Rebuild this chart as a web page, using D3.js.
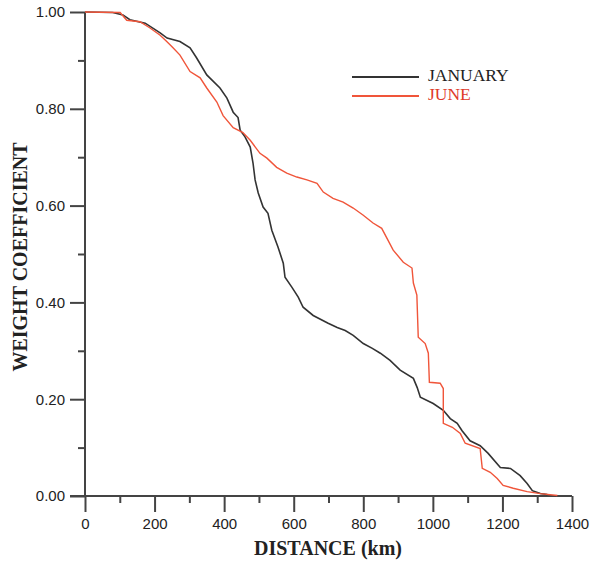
<!DOCTYPE html>
<html lang="en">
<head>
    <meta charset="UTF-8">
    <title>Weight coefficient vs distance</title>
    <script src="https://cdnjs.cloudflare.com/ajax/libs/d3/7.8.5/d3.min.js"></script>
    <style>
        body { margin: 0; background: #fff; }
    </style>
</head>
<body>
<svg id="chart" width="594" height="562"></svg>

<script>
    // 数据：距离(km) 与 权重系数
    var janDist = [0, 80, 109, 129, 173, 216, 236, 273, 302, 321, 350, 388, 408, 426, 440, 446, 460, 475, 483, 489, 498, 512, 526, 537, 555, 570, 575, 595, 613, 627, 656, 699, 725, 748, 771, 800, 826, 849, 877, 906, 944, 955, 964, 1001, 1030, 1050, 1070, 1084, 1107, 1136, 1159, 1194, 1223, 1251, 1271, 1286, 1309, 1329];
    var janWeight = [1.0, 0.999, 0.994, 0.984, 0.977, 0.957, 0.946, 0.939, 0.926, 0.905, 0.870, 0.843, 0.822, 0.793, 0.782, 0.756, 0.742, 0.721, 0.688, 0.653, 0.626, 0.597, 0.584, 0.549, 0.514, 0.481, 0.452, 0.431, 0.411, 0.390, 0.373, 0.357, 0.348, 0.342, 0.332, 0.315, 0.305, 0.295, 0.280, 0.260, 0.243, 0.224, 0.204, 0.191, 0.177, 0.160, 0.150, 0.135, 0.114, 0.104, 0.088, 0.059, 0.057, 0.042, 0.026, 0.011, 0.005, 0.003];

    var junDist = [0, 101, 120, 158, 187, 216, 235, 253, 273, 302, 331, 350, 379, 397, 426, 454, 475, 503, 523, 551, 580, 609, 638, 667, 685, 713, 742, 771, 800, 828, 853, 886, 915, 940, 944, 954, 958, 978, 987, 990, 1021, 1030, 1030, 1056, 1079, 1093, 1136, 1142, 1165, 1185, 1202, 1231, 1271, 1309, 1358];
    var junWeight = [1.0, 0.999, 0.983, 0.980, 0.967, 0.952, 0.939, 0.926, 0.911, 0.877, 0.864, 0.843, 0.814, 0.786, 0.761, 0.751, 0.735, 0.708, 0.698, 0.679, 0.667, 0.659, 0.653, 0.646, 0.628, 0.615, 0.607, 0.595, 0.580, 0.564, 0.553, 0.508, 0.483, 0.471, 0.440, 0.415, 0.328, 0.315, 0.295, 0.235, 0.233, 0.222, 0.150, 0.142, 0.129, 0.109, 0.098, 0.057, 0.049, 0.036, 0.022, 0.016, 0.009, 0.005, 0.001];

    var xTicks = [0, 200, 400, 600, 800, 1000, 1200, 1400];
    var yTicks = [0, 0.2, 0.4, 0.6, 0.8, 1.0];
    var seriesNames = ["JANUARY", "JUNE"];
    var seriesColors = ["#333333", "#f0553a"];

    // 画布
    var width = 594;
    var height = 562;
    var margin = {top: 12, right: 22, bottom: 66, left: 85};

    var svg = d3.select("#chart");

    var x = d3.scaleLinear().domain([0, 1400]).range([margin.left, width - margin.right]);
    var y = d3.scaleLinear().domain([0, 1]).range([height - margin.bottom, margin.top]);

    var axisColor = "#444";

    // x轴
    var xAxis = svg.append("g")
        .attr("transform", "translate(0," + y(0) + ")")
        .call(d3.axisBottom(x).tickValues(xTicks).tickSize(16).tickPadding(6).tickFormat(d3.format("d")));
    var xMinor = svg.append("g")
        .attr("transform", "translate(0," + y(0) + ")")
        .call(d3.axisBottom(x).tickValues(d3.range(100, 1400, 200)).tickSize(7).tickFormat(""));

    // y轴
    var yAxis = svg.append("g")
        .attr("transform", "translate(" + x(0) + ",0)")
        .call(d3.axisLeft(y).tickValues(yTicks).tickSize(15).tickPadding(5).tickFormat(d3.format(".2f")));
    var yMinor = svg.append("g")
        .attr("transform", "translate(" + x(0) + ",0)")
        .call(d3.axisLeft(y).tickValues([0.1, 0.3, 0.5, 0.7, 0.9]).tickSize(7).tickFormat(""));

    [xAxis, xMinor, yAxis, yMinor].forEach(function (g) {
        g.select(".domain").attr("stroke", axisColor).attr("stroke-width", 2);
        g.selectAll(".tick line").attr("stroke", axisColor).attr("stroke-width", 2);
        g.selectAll(".tick text")
            .attr("fill", "#222")
            .style("font-family", "'Liberation Sans', Arial, sans-serif")
            .style("font-size", "15px");
    });
    xMinor.select(".domain").remove();
    yMinor.select(".domain").remove();
    yAxis.select(".domain").attr("d", "M0," + y(1) + "V" + y(0));
    xAxis.select(".domain").attr("d", "M" + (x(0) - 15) + ",0H" + x(1400));

    // 曲线
    var line = d3.line()
        .x(function (d) { return x(d[0]); })
        .y(function (d) { return y(d[1]); });

    var janData = d3.zip(janDist, janWeight);
    var junData = d3.zip(junDist, junWeight);

    svg.append("path")
        .datum(janData)
        .attr("d", line)
        .attr("fill", "none")
        .attr("stroke", seriesColors[0])
        .attr("stroke-width", 1.6);

    svg.append("path")
        .datum(junData)
        .attr("d", line)
        .attr("fill", "none")
        .attr("stroke", seriesColors[1])
        .attr("stroke-width", 1.4);

    // 图例
    var legend = svg.selectAll(".legend")
        .data(seriesNames)
        .enter()
        .append("g")
        .attr("transform", function (d, i) { return "translate(352," + (77 + i * 19) + ")"; });

    legend.append("line")
        .attr("x1", 0).attr("x2", 67)
        .attr("stroke", function (d, i) { return seriesColors[i]; })
        .attr("stroke-width", 2);

    legend.append("text")
        .attr("x", 76)
        .attr("y", 3.5)
        .attr("fill", function (d, i) { return i === 0 ? "#222" : "#e03a2a"; })
        .style("font-family", "'Liberation Serif', 'Times New Roman', serif")
        .style("font-size", "17.5px")
        .text(function (d) { return d; });

    // 轴标题
    svg.append("text")
        .attr("x", 328)
        .attr("y", 555)
        .attr("text-anchor", "middle")
        .style("font-family", "'Liberation Serif', 'Times New Roman', serif")
        .style("font-weight", "bold")
        .style("font-size", "20px")
        .attr("fill", "#222")
        .text("DISTANCE (km)");

    svg.append("text")
        .attr("transform", "translate(27,257) rotate(-90)")
        .attr("text-anchor", "middle")
        .style("font-family", "'Liberation Serif', 'Times New Roman', serif")
        .style("font-weight", "bold")
        .style("font-size", "20px")
        .attr("fill", "#222")
        .text("WEIGHT COEFFICIENT");
</script>
</body>
</html>
